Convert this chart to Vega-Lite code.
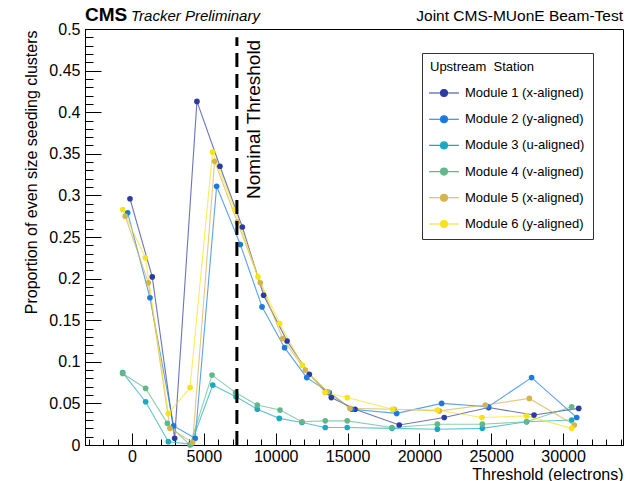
{
  "$schema": "https://vega.github.io/schema/vega-lite/v6.json",
  "width": 538,
  "height": 416,
  "autosize": {"type": "none"},
  "padding": {"left": 85, "top": 29, "right": 11, "bottom": 36},
  "background": "white",
  "config": {
    "view": {"stroke": "#000000", "strokeWidth": 1},
    "font": "Liberation Sans",
    "axis": {"grid": false, "tickColor": "#000000", "domainColor": "#000000", "labelColor": "#000000", "titleColor": "#000000", "labelFont": "Liberation Sans", "titleFont": "Liberation Sans"}
  },
  "datasets": {
    "modules": [
      {"module": "Module 1 (x-aligned)", "threshold": -140, "proportion": 0.296},
      {"module": "Module 1 (x-aligned)", "threshold": 1410, "proportion": 0.202},
      {"module": "Module 1 (x-aligned)", "threshold": 2970, "proportion": 0.008},
      {"module": "Module 1 (x-aligned)", "threshold": 4520, "proportion": 0.413},
      {"module": "Module 1 (x-aligned)", "threshold": 6120, "proportion": 0.335},
      {"module": "Module 1 (x-aligned)", "threshold": 7680, "proportion": 0.262},
      {"module": "Module 1 (x-aligned)", "threshold": 9160, "proportion": 0.18},
      {"module": "Module 1 (x-aligned)", "threshold": 10790, "proportion": 0.125},
      {"module": "Module 1 (x-aligned)", "threshold": 12340, "proportion": 0.085},
      {"module": "Module 1 (x-aligned)", "threshold": 13870, "proportion": 0.057},
      {"module": "Module 1 (x-aligned)", "threshold": 15520, "proportion": 0.043},
      {"module": "Module 1 (x-aligned)", "threshold": 18600, "proportion": 0.024},
      {"module": "Module 1 (x-aligned)", "threshold": 21730, "proportion": 0.033},
      {"module": "Module 1 (x-aligned)", "threshold": 24820, "proportion": 0.045},
      {"module": "Module 1 (x-aligned)", "threshold": 27980, "proportion": 0.036},
      {"module": "Module 1 (x-aligned)", "threshold": 31090, "proportion": 0.044},
      {"module": "Module 2 (y-aligned)", "threshold": -300, "proportion": 0.279},
      {"module": "Module 2 (y-aligned)", "threshold": 1250, "proportion": 0.177},
      {"module": "Module 2 (y-aligned)", "threshold": 2900, "proportion": 0.023},
      {"module": "Module 2 (y-aligned)", "threshold": 4400, "proportion": 0.008},
      {"module": "Module 2 (y-aligned)", "threshold": 5890, "proportion": 0.311},
      {"module": "Module 2 (y-aligned)", "threshold": 7540, "proportion": 0.241},
      {"module": "Module 2 (y-aligned)", "threshold": 9050, "proportion": 0.166},
      {"module": "Module 2 (y-aligned)", "threshold": 10620, "proportion": 0.117},
      {"module": "Module 2 (y-aligned)", "threshold": 12160, "proportion": 0.081},
      {"module": "Module 2 (y-aligned)", "threshold": 13730, "proportion": 0.063},
      {"module": "Module 2 (y-aligned)", "threshold": 15300, "proportion": 0.043},
      {"module": "Module 2 (y-aligned)", "threshold": 18420, "proportion": 0.038},
      {"module": "Module 2 (y-aligned)", "threshold": 21550, "proportion": 0.05},
      {"module": "Module 2 (y-aligned)", "threshold": 24800, "proportion": 0.046},
      {"module": "Module 2 (y-aligned)", "threshold": 27810, "proportion": 0.081},
      {"module": "Module 2 (y-aligned)", "threshold": 30950, "proportion": 0.033},
      {"module": "Module 3 (u-aligned)", "threshold": -650, "proportion": 0.087},
      {"module": "Module 3 (u-aligned)", "threshold": 950, "proportion": 0.052},
      {"module": "Module 3 (u-aligned)", "threshold": 2530, "proportion": 0.004},
      {"module": "Module 3 (u-aligned)", "threshold": 4100, "proportion": 0.001},
      {"module": "Module 3 (u-aligned)", "threshold": 5620, "proportion": 0.072},
      {"module": "Module 3 (u-aligned)", "threshold": 7240, "proportion": 0.058},
      {"module": "Module 3 (u-aligned)", "threshold": 8720, "proportion": 0.043},
      {"module": "Module 3 (u-aligned)", "threshold": 10250, "proportion": 0.032},
      {"module": "Module 3 (u-aligned)", "threshold": 11830, "proportion": 0.027},
      {"module": "Module 3 (u-aligned)", "threshold": 13450, "proportion": 0.021},
      {"module": "Module 3 (u-aligned)", "threshold": 14980, "proportion": 0.021},
      {"module": "Module 3 (u-aligned)", "threshold": 18090, "proportion": 0.02},
      {"module": "Module 3 (u-aligned)", "threshold": 21250, "proportion": 0.019},
      {"module": "Module 3 (u-aligned)", "threshold": 24380, "proportion": 0.02},
      {"module": "Module 3 (u-aligned)", "threshold": 27460, "proportion": 0.028},
      {"module": "Module 3 (u-aligned)", "threshold": 30600, "proportion": 0.03},
      {"module": "Module 4 (v-aligned)", "threshold": -650, "proportion": 0.086},
      {"module": "Module 4 (v-aligned)", "threshold": 950, "proportion": 0.068},
      {"module": "Module 4 (v-aligned)", "threshold": 2460, "proportion": 0.026},
      {"module": "Module 4 (v-aligned)", "threshold": 4040, "proportion": 0.0},
      {"module": "Module 4 (v-aligned)", "threshold": 5570, "proportion": 0.084},
      {"module": "Module 4 (v-aligned)", "threshold": 7210, "proportion": 0.063},
      {"module": "Module 4 (v-aligned)", "threshold": 8720, "proportion": 0.048},
      {"module": "Module 4 (v-aligned)", "threshold": 10300, "proportion": 0.042},
      {"module": "Module 4 (v-aligned)", "threshold": 11830, "proportion": 0.028},
      {"module": "Module 4 (v-aligned)", "threshold": 13450, "proportion": 0.029},
      {"module": "Module 4 (v-aligned)", "threshold": 14980, "proportion": 0.029},
      {"module": "Module 4 (v-aligned)", "threshold": 18090, "proportion": 0.021},
      {"module": "Module 4 (v-aligned)", "threshold": 21250, "proportion": 0.025},
      {"module": "Module 4 (v-aligned)", "threshold": 24380, "proportion": 0.025},
      {"module": "Module 4 (v-aligned)", "threshold": 27460, "proportion": 0.028},
      {"module": "Module 4 (v-aligned)", "threshold": 30600, "proportion": 0.046},
      {"module": "Module 5 (x-aligned)", "threshold": -470, "proportion": 0.275},
      {"module": "Module 5 (x-aligned)", "threshold": 1140, "proportion": 0.195},
      {"module": "Module 5 (x-aligned)", "threshold": 2640, "proportion": 0.02},
      {"module": "Module 5 (x-aligned)", "threshold": 4220, "proportion": 0.003},
      {"module": "Module 5 (x-aligned)", "threshold": 5750, "proportion": 0.341},
      {"module": "Module 5 (x-aligned)", "threshold": 7330, "proportion": 0.268},
      {"module": "Module 5 (x-aligned)", "threshold": 8930, "proportion": 0.195},
      {"module": "Module 5 (x-aligned)", "threshold": 10480, "proportion": 0.128},
      {"module": "Module 5 (x-aligned)", "threshold": 12060, "proportion": 0.09},
      {"module": "Module 5 (x-aligned)", "threshold": 13620, "proportion": 0.064},
      {"module": "Module 5 (x-aligned)", "threshold": 15170, "proportion": 0.044},
      {"module": "Module 5 (x-aligned)", "threshold": 18250, "proportion": 0.043},
      {"module": "Module 5 (x-aligned)", "threshold": 21390, "proportion": 0.041},
      {"module": "Module 5 (x-aligned)", "threshold": 24590, "proportion": 0.048},
      {"module": "Module 5 (x-aligned)", "threshold": 27650, "proportion": 0.056},
      {"module": "Module 5 (x-aligned)", "threshold": 30780, "proportion": 0.024},
      {"module": "Module 6 (y-aligned)", "threshold": -650, "proportion": 0.283},
      {"module": "Module 6 (y-aligned)", "threshold": 930, "proportion": 0.225},
      {"module": "Module 6 (y-aligned)", "threshold": 2530, "proportion": 0.038},
      {"module": "Module 6 (y-aligned)", "threshold": 4040, "proportion": 0.069},
      {"module": "Module 6 (y-aligned)", "threshold": 5610, "proportion": 0.352},
      {"module": "Module 6 (y-aligned)", "threshold": 7150, "proportion": 0.283},
      {"module": "Module 6 (y-aligned)", "threshold": 8770, "proportion": 0.202},
      {"module": "Module 6 (y-aligned)", "threshold": 10280, "proportion": 0.146},
      {"module": "Module 6 (y-aligned)", "threshold": 11850, "proportion": 0.096},
      {"module": "Module 6 (y-aligned)", "threshold": 13430, "proportion": 0.063},
      {"module": "Module 6 (y-aligned)", "threshold": 14980, "proportion": 0.057},
      {"module": "Module 6 (y-aligned)", "threshold": 18130, "proportion": 0.043},
      {"module": "Module 6 (y-aligned)", "threshold": 21250, "proportion": 0.042},
      {"module": "Module 6 (y-aligned)", "threshold": 24360, "proportion": 0.033},
      {"module": "Module 6 (y-aligned)", "threshold": 27460, "proportion": 0.035},
      {"module": "Module 6 (y-aligned)", "threshold": 30600, "proportion": 0.02}
    ],
    "nominal": [{"threshold": 7300, "label": "Nominal Threshold"}]
  },
  "resolve": {"axis": {"x": "independent", "y": "independent"}},
  "layer": [
    {
      "data": {"name": "modules"},
      "mark": {"type": "line", "strokeWidth": 1.1, "opacity": 0.7},
      "encoding": {
        "x": {"field": "threshold", "type": "quantitative", "scale": {"domain": [-3270, 34170], "nice": false, "zero": false},
          "axis": {"orient": "bottom", "values": [0, 5000, 10000, 15000, 20000, 25000, 30000], "format": "d", "tickSize": -12, "labelPadding": 15.5, "labelFontSize": 16, "labelFlush": false, "labelOverlap": false,
            "title": "Threshold (electrons)", "titleFontSize": 16, "titleFontWeight": "normal", "titleAlign": "right", "titleAnchor": "end", "titleX": 538, "titleY": 34, "titleBaseline": "alphabetic"}},
        "y": {"field": "proportion", "type": "quantitative", "scale": {"domain": [0, 0.5], "nice": false, "zero": false},
          "axis": {"orient": "left", "values": [0, 0.05, 0.1, 0.15, 0.2, 0.25, 0.3, 0.35, 0.4, 0.45, 0.5], "format": "~g", "tickSize": -16, "labelPadding": 21, "labelFontSize": 16, "labelFlush": false, "labelOverlap": false,
            "title": "Proportion of even size seeding clusters", "titleFontSize": 16, "titleFontWeight": "normal", "titleAngle": 270, "titleAlign": "right", "titleAnchor": "end", "titleX": -62, "titleY": 1, "titleBaseline": "top"}},
        "color": {"field": "module", "type": "nominal",
          "scale": {"domain": ["Module 1 (x-aligned)", "Module 2 (y-aligned)", "Module 3 (u-aligned)", "Module 4 (v-aligned)", "Module 5 (x-aligned)", "Module 6 (y-aligned)"],
                    "range": ["#2c3c9e", "#1a7ae0", "#19a9c3", "#63b88a", "#d4b44c", "#f8e21a"]},
          "legend": {"orient": "none", "legendX": 337, "legendY": 24, "title": "Upstream \u00a0Station", "titleFontSize": 13, "titleFontWeight": "normal", "titleColor": "#000000", "titlePadding": 5,
            "labelFontSize": 13, "labelColor": "#000000", "labelOffset": 7, "labelLimit": 300,
            "symbolType": "M-1.15,0H1.15M-0.27,0A0.27,0.27,0,1,0,0.27,0A0.27,0.27,0,1,0,-0.27,0Z", "symbolSize": 676, "symbolStrokeWidth": 1.1, "symbolOpacity": 1,
            "rowPadding": 5.2, "padding": 8, "strokeColor": "#333333", "fillColor": "white",
            "encode": {"symbols": {"update": {"fill": {"scale": "color", "field": "value"}, "stroke": {"scale": "color", "field": "value"}, "opacity": {"value": 1}}}}}}
      }
    },
    {
      "data": {"name": "modules"},
      "mark": {"type": "point", "filled": true, "size": 32, "opacity": 1},
      "encoding": {
        "x": {"field": "threshold", "type": "quantitative", "axis": null},
        "y": {"field": "proportion", "type": "quantitative", "axis": null},
        "color": {"field": "module", "type": "nominal",
          "legend": {"orient": "none", "legendX": 337, "legendY": 24, "title": "Upstream \u00a0Station", "titleFontSize": 13, "titleFontWeight": "normal", "titleColor": "#000000", "titlePadding": 5,
            "labelFontSize": 13, "labelColor": "#000000", "labelOffset": 7, "labelLimit": 300,
            "symbolType": "M-1.15,0H1.15M-0.27,0A0.27,0.27,0,1,0,0.27,0A0.27,0.27,0,1,0,-0.27,0Z", "symbolSize": 676, "symbolStrokeWidth": 1.1, "symbolOpacity": 1,
            "rowPadding": 5.2, "padding": 8, "strokeColor": "#333333", "fillColor": "white",
            "encode": {"symbols": {"update": {"fill": {"scale": "color", "field": "value"}, "stroke": {"scale": "color", "field": "value"}, "opacity": {"value": 1}}}}}}
      }
    },
    {
      "data": {"name": "nominal"},
      "mark": {"type": "rule", "color": "#000000", "strokeWidth": 3, "strokeDash": [14, 7]},
      "encoding": {
        "x": {"field": "threshold", "type": "quantitative",
          "axis": {"orient": "bottom", "values": [-3000, -2000, -1000, 0, 1000, 2000, 3000, 4000, 5000, 6000, 7000, 8000, 9000, 10000, 11000, 12000, 13000, 14000, 15000, 16000, 17000, 18000, 19000, 20000, 21000, 22000, 23000, 24000, 25000, 26000, 27000, 28000, 29000, 30000, 31000, 32000, 33000, 34000], "tickSize": -6, "labels": false, "domain": false, "title": null}},
        "y": {"datum": 0, "type": "quantitative",
          "axis": {"orient": "left", "values": [0, 0.01, 0.02, 0.03, 0.04, 0.05, 0.06, 0.07, 0.08, 0.09, 0.1, 0.11, 0.12, 0.13, 0.14, 0.15, 0.16, 0.17, 0.18, 0.19, 0.2, 0.21, 0.22, 0.23, 0.24, 0.25, 0.26, 0.27, 0.28, 0.29, 0.3, 0.31, 0.32, 0.33, 0.34, 0.35, 0.36, 0.37, 0.38, 0.39, 0.4, 0.41, 0.42, 0.43, 0.44, 0.45, 0.46, 0.47, 0.48, 0.49, 0.5], "tickSize": -8, "labels": false, "domain": false, "title": null}},
        "y2": {"datum": 0.49}
      }
    },
    {
      "data": {"name": "nominal"},
      "mark": {"type": "text", "angle": 270, "align": "right", "baseline": "alphabetic", "dy": 23, "fontSize": 19, "font": "Liberation Sans", "color": "#000000"},
      "encoding": {
        "x": {"field": "threshold", "type": "quantitative", "axis": null},
        "y": {"datum": 0.487, "type": "quantitative", "axis": null},
        "text": {"field": "label"}
      }
    },
    {
      "data": {"values": [{"label": "CMS"}]},
      "mark": {"type": "text", "align": "left", "baseline": "alphabetic", "dy": -8, "fontSize": 19, "fontWeight": "bold", "font": "Liberation Sans", "color": "#000000"},
      "encoding": {
        "x": {"datum": -3270, "type": "quantitative", "axis": null},
        "y": {"datum": 0.5, "type": "quantitative", "axis": null},
        "text": {"field": "label"}
      }
    },
    {
      "data": {"values": [{"label": "Tracker Preliminary"}]},
      "mark": {"type": "text", "align": "left", "baseline": "alphabetic", "dx": 46, "dy": -8, "fontSize": 15, "fontStyle": "italic", "font": "Liberation Sans", "color": "#000000"},
      "encoding": {
        "x": {"datum": -3270, "type": "quantitative", "axis": null},
        "y": {"datum": 0.5, "type": "quantitative", "axis": null},
        "text": {"field": "label"}
      }
    },
    {
      "data": {"values": [{"label": "Joint CMS-MUonE Beam-Test"}]},
      "mark": {"type": "text", "align": "right", "baseline": "alphabetic", "dy": -8, "fontSize": 15.5, "font": "Liberation Sans", "color": "#000000"},
      "encoding": {
        "x": {"datum": 34170, "type": "quantitative", "axis": null},
        "y": {"datum": 0.5, "type": "quantitative", "axis": null},
        "text": {"field": "label"}
      }
    }
  ]
}
